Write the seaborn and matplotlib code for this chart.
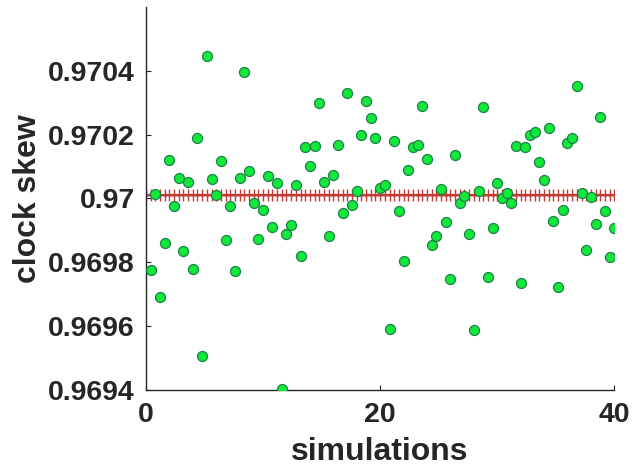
import numpy as np
import pandas as pd
import matplotlib
matplotlib.use("Agg")
import matplotlib.pyplot as plt
import seaborn as sns

# Estimated clock skew for each simulation run (runs spaced 0.4 apart on the axis)
skew = [
    0.969775, 0.970013, 0.969692, 0.969859, 0.970120, 0.969976, 0.970064, 0.969834, 0.970053, 0.969778,
    0.970189, 0.969508, 0.970448, 0.970061, 0.970010, 0.970119, 0.969869, 0.969976, 0.969773, 0.970064,
    0.970396, 0.970087, 0.969985, 0.969872, 0.969963, 0.970072, 0.969911, 0.970047, 0.969403, 0.969888,
    0.969917, 0.970043, 0.969819, 0.970160, 0.970101, 0.970166, 0.970300, 0.970052, 0.969881, 0.970073,
    0.970168, 0.969953, 0.970332, 0.969980, 0.970023, 0.970200, 0.970305, 0.970253, 0.970188, 0.970034,
    0.970042, 0.969591, 0.970180, 0.969962, 0.969804, 0.970089, 0.970160, 0.970168, 0.970290, 0.970125,
    0.969855, 0.969882, 0.970029, 0.969926, 0.969747, 0.970136, 0.969985, 0.970008, 0.969890, 0.969587,
    0.970023, 0.970287, 0.969754, 0.969909, 0.970050, 0.970000, 0.970017, 0.969985, 0.970165, 0.969735,
    0.970160, 0.970199, 0.970207, 0.970114, 0.970057, 0.970222, 0.969931, 0.969722, 0.969964, 0.970175,
    0.970191, 0.970352, 0.970018, 0.969838, 0.970006, 0.969921, 0.970254, 0.969962, 0.969818, 0.969909,
]
sim_step = 0.4
sim_x = sim_step * np.arange(1, len(skew) + 1)

# Reference (true) skew drawn across the whole run range
true_skew = 0.970011
ref_x = sim_step * np.arange(0, len(skew) + 1)

x_ticks = [0, 20, 40]
y_ticks = [0.9694, 0.9696, 0.9698, 0.9700, 0.9702, 0.9704]
y_tick_labels = ["0.9694", "0.9696", "0.9698", "0.97", "0.9702", "0.9704"]

sns.set_style("white")
plt.rcParams["font.family"] = ["Liberation Sans", "DejaVu Sans"]
plt.rcParams["font.weight"] = "bold"

text_color = "#262626"

fig = plt.figure(figsize=(6.33, 4.76), dpi=100)
ax = fig.add_axes([0.2306, 0.1807, 0.7399, 0.8046])

ref_df = pd.DataFrame({"sim": ref_x, "skew": np.full(len(ref_x), true_skew)})
sns.lineplot(data=ref_df, x="sim", y="skew", ax=ax, color="#c23b35", lw=1.6,
             marker="+", markersize=8, markeredgewidth=1.0, markeredgecolor="#c23b35",
             zorder=2)

est_df = pd.DataFrame({"sim": sim_x, "skew": skew})
sns.scatterplot(data=est_df, x="sim", y="skew", ax=ax, s=52, color="#10e83a",
                edgecolor="#1f8046", linewidth=0.9, zorder=3)

ax.set_xlim(0, 40)
ax.set_ylim(0.9694, 0.9706)
ax.set_xticks(x_ticks)
ax.set_xticklabels([str(t) for t in x_ticks])
ax.set_yticks(y_ticks)
ax.set_yticklabels(y_tick_labels)

for side in ("top", "right"):
    ax.spines[side].set_visible(False)
for side in ("left", "bottom"):
    ax.spines[side].set_color(text_color)
    ax.spines[side].set_linewidth(1.0)

ax.tick_params(axis="both", direction="in", length=3.5, width=0.8, color=text_color,
               labelsize=20.5, labelcolor=text_color)
ax.tick_params(axis="x", pad=9)
ax.tick_params(axis="y", pad=8)
ax.tick_params(left=True, bottom=True)

ax.set_xlabel("simulations", fontsize=23, fontweight="bold", color=text_color, labelpad=6)
ax.set_ylabel("clock skew", fontsize=23, fontweight="bold", color=text_color)
ax.yaxis.set_label_coords(-0.22, 0.5)

fig.savefig("out.png", dpi=100)
